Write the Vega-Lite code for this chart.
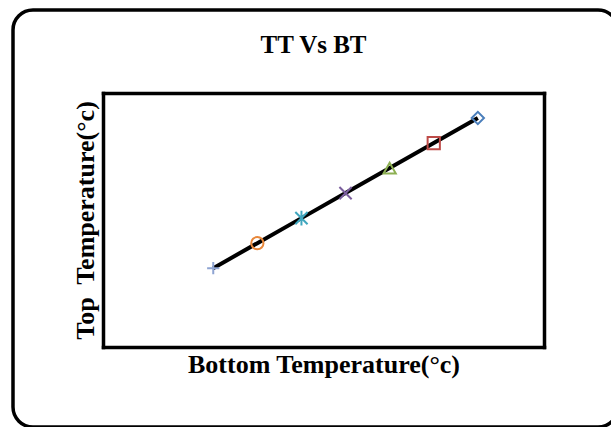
{
  "$schema": "https://vega.github.io/schema/vega-lite/v6.json",
  "width": 605,
  "height": 417,
  "autosize": "none",
  "padding": {"left": 13, "top": 10, "right": 0, "bottom": 0},
  "background": "white",
  "title": {
    "text": "TT Vs BT",
    "font": "Liberation Serif",
    "fontSize": 25,
    "fontWeight": "bold",
    "color": "black",
    "anchor": "middle",
    "frame": "group",
    "offset": 0,
    "dy": 48,
    "dx": -2
  },
  "data": {
    "values": [
      {"series": "S1", "BT": 40, "TT": 30},
      {"series": "S2", "BT": 45, "TT": 34},
      {"series": "S3", "BT": 50, "TT": 38},
      {"series": "S4", "BT": 55, "TT": 42},
      {"series": "S5", "BT": 60, "TT": 46},
      {"series": "S6", "BT": 65, "TT": 50},
      {"series": "S7", "BT": 70, "TT": 54}
    ]
  },
  "layer": [
    {
      "mark": {"type": "line", "color": "black", "strokeWidth": 4},
      "encoding": {
        "x": {
          "field": "BT",
          "type": "quantitative",
          "scale": {"domain": [27.5, 77.5], "range": [90, 531], "nice": false, "zero": false},
          "axis": {"orient": "bottom", "offset": -80, "title": "Bottom Temperature(°c)", "titlePadding": 4, "titleFontSize": 26}
        },
        "y": {
          "field": "TT",
          "type": "quantitative",
          "scale": {"domain": [17.4, 58.0], "range": [337, 83], "nice": false, "zero": false},
          "axis": {"orient": "left", "offset": -90, "title": "Top\u00a0 Temperature(°c)", "titlePadding": 5, "titleFontSize": 26}
        },
        "order": {"field": "BT"}
      }
    },
    {
      "mark": {"type": "point", "filled": false, "strokeWidth": 2, "size": 150, "opacity": 1},
      "encoding": {
        "x": {
          "field": "BT",
          "type": "quantitative",
          "axis": {"orient": "top", "offset": -83, "title": null}
        },
        "y": {
          "field": "TT",
          "type": "quantitative",
          "axis": {"orient": "right", "offset": -74, "title": null}
        },
        "shape": {
          "field": "series",
          "type": "nominal",
          "scale": {
            "domain": ["S1", "S2", "S3", "S4", "S5", "S6", "S7"],
            "range": [
              "M-1,0L1,0M0,-1L0,1",
              "circle",
              "M-1,-1L1,1M-1,1L1,-1M0,-1.2L0,1.2",
              "M-1,-1L1,1M-1,1L1,-1",
              "triangle-up",
              "square",
              "diamond"
            ]
          },
          "legend": null
        },
        "color": {
          "field": "series",
          "type": "nominal",
          "scale": {
            "domain": ["S1", "S2", "S3", "S4", "S5", "S6", "S7"],
            "range": ["#8EA4D2", "#E8873A", "#3FA6BE", "#7B5F9E", "#8DB053", "#BE4B48", "#4A7EBB"]
          },
          "legend": null
        }
      }
    }
  ],
  "resolve": {"axis": {"x": "independent", "y": "independent"}},
  "config": {
    "view": {"stroke": "black", "strokeWidth": 3.5, "cornerRadius": 20, "fill": "white"},
    "axis": {
      "labels": false,
      "ticks": false,
      "grid": false,
      "domain": true,
      "domainColor": "black",
      "domainWidth": 3.5,
      "domainCap": "square",
      "titleFont": "Liberation Serif",
      "titleFontSize": 25,
      "titleFontWeight": "bold",
      "titleColor": "black"
    }
  }
}
